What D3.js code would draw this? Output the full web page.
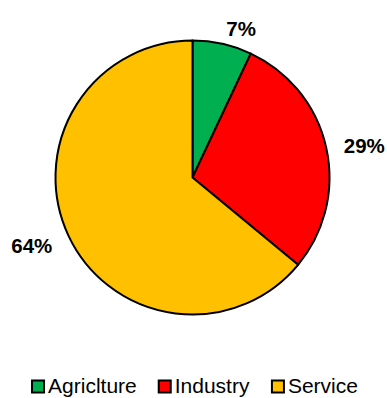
<!DOCTYPE html>
<html>
<head>
<meta charset="utf-8">
<script src="https://cdn.jsdelivr.net/npm/d3@7"></script>
<style>
  html, body { margin: 0; padding: 0; background: #fff; }
  svg { display: block; }
</style>
</head>
<body>
<svg id="chart" width="387" height="398"></svg>
<script>
// Employment share by sector
const sectors = ["Agriclture", "Industry", "Service"];
const shares = [7, 29, 64];
const sectorColors = ["#00B050", "#FF0000", "#FFC000"];

const width = 387, height = 398;
const cx = 192.5, cy = 177.5, radius = 137;
const labelRadius = 155;

const svg = d3.select("#chart");
const font = "'Liberation Sans', Arial, sans-serif";

const color = d3.scaleOrdinal().domain(sectors).range(sectorColors);

const pie = d3.pie().sort(null).value(d => d.value);
const data = sectors.map((s, i) => ({ name: s, value: shares[i] }));
const arcs = pie(data);
const total = d3.sum(shares);

const arc = d3.arc().innerRadius(0).outerRadius(radius);

const g = svg.append("g").attr("transform", `translate(${cx},${cy})`);

g.selectAll("path.slice")
  .data(arcs)
  .join("path")
  .attr("class", "slice")
  .attr("d", arc)
  .attr("fill", d => color(d.data.name))
  .attr("stroke", "#000")
  .attr("stroke-width", 2)
  .attr("stroke-linejoin", "round");

// Percentage labels outside each slice
g.selectAll("text.pct")
  .data(arcs)
  .join("text")
  .attr("class", "pct")
  .each(function(d) {
    const a = (d.startAngle + d.endAngle) / 2;
    const x = labelRadius * Math.sin(a);
    const y = -labelRadius * Math.cos(a);
    d3.select(this)
      .attr("x", x)
      .attr("y", y + 2)
      .attr("text-anchor", x >= 0 ? "start" : "end");
  })
  .attr("dominant-baseline", "central")
  .attr("font-family", font)
  .attr("font-weight", "bold")
  .attr("font-size", 20.5)
  .attr("fill", "#000")
  .text(d => Math.round(d.data.value / total * 100) + "%");

// Legend along the bottom
const legend = svg.append("g");
const sw = 12, swGap = 4, itemGap = 22;
let xPos = 0;
const items = legend.selectAll("g.item")
  .data(sectors)
  .join("g")
  .attr("class", "item");

items.append("rect")
  .attr("width", sw)
  .attr("height", sw)
  .attr("y", -sw - 0.5)
  .attr("fill", d => color(d))
  .attr("stroke", "#000")
  .attr("stroke-width", 2);

items.append("text")
  .attr("x", sw + swGap)
  .attr("y", 0)
  .attr("font-family", font)
  .attr("font-size", 21)
  .attr("fill", "#000")
  .text(d => d);

items.each(function() {
  const w = this.getBBox().width;
  d3.select(this).attr("transform", `translate(${xPos},0)`);
  xPos += w + itemGap;
});
const legendWidth = xPos - itemGap;
legend.attr("transform", `translate(${(width - legendWidth) / 2 + 1.5},${393})`);
</script>
</body>
</html>
